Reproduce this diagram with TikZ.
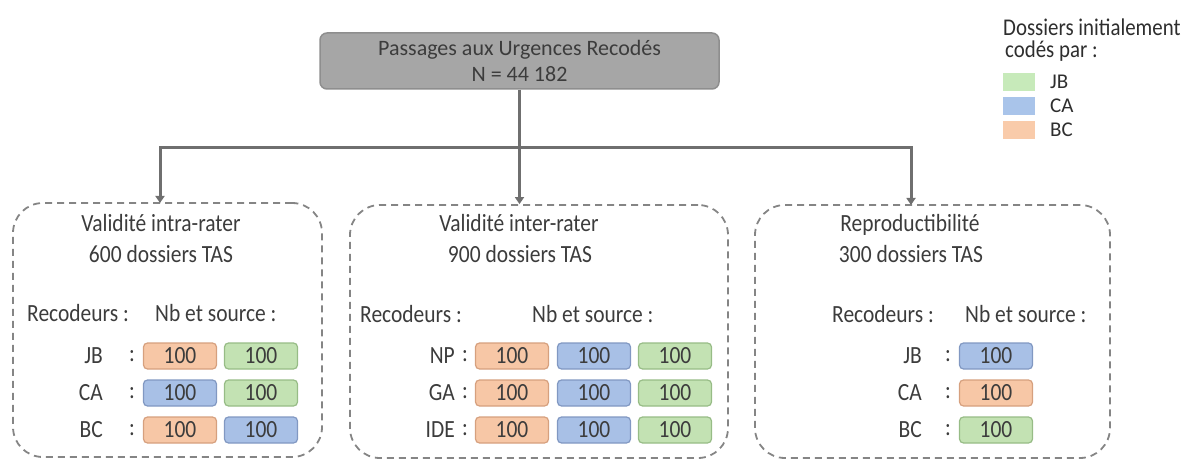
\documentclass[tikz,border=0pt]{standalone}
\usepackage{fontspec}
\setmainfont{Carlito}
% panel text is set slightly narrow and tall
\newfontfamily\panelfont[FakeStretch=0.87]{Carlito}
\usetikzlibrary{arrows.meta}

\definecolor{txt}{HTML}{3C3C3C}
\definecolor{legtxt}{HTML}{2E2E2E}
\definecolor{linegray}{HTML}{6F6F6F}
\definecolor{dashgray}{HTML}{858585}
\definecolor{topfill}{HTML}{A6A6A6}
\definecolor{topdraw}{HTML}{8E8E8E}
\definecolor{orfill}{HTML}{F7C7A6}
\definecolor{ordraw}{HTML}{D6A07E}
\definecolor{blfill}{HTML}{A8C0E6}
\definecolor{bldraw}{HTML}{8198C2}
\definecolor{grfill}{HTML}{C3E2B3}
\definecolor{grdraw}{HTML}{97BC86}
\definecolor{keyor}{HTML}{F9CBAA}
\definecolor{keybl}{HTML}{A9C4EA}
\definecolor{keygr}{HTML}{C7EABA}

\tikzset{
  base/.style={font=\panelfont\fontsize{24.7}{31}\selectfont, text=txt, inner sep=0pt},
  topbox/.style={font=\fontsize{22}{26}\selectfont, text=txt, inner sep=0pt,
    draw=topdraw, fill=topfill, line width=1.5pt,
    rounded corners=7pt, minimum width=399pt, minimum height=56pt, align=center},
  panel/.style={draw=dashgray, line width=1.8pt, dash pattern=on 7pt off 5pt,
    rounded corners=30pt},
  conn/.style={draw=linegray, line width=3pt, -{Triangle[width=9pt,length=7pt]}},
  cell/.style={base, minimum width=73pt, minimum height=26pt, rounded corners=4pt,
    line width=1.2pt},
  cellO/.style={cell, fill=orfill, draw=ordraw},
  cellB/.style={cell, fill=blfill, draw=bldraw},
  cellG/.style={cell, fill=grfill, draw=grdraw},
  keysq/.style={minimum width=32pt, minimum height=18pt, inner sep=0pt},
  keytxt/.style={font=\fontsize{21}{22}\selectfont, text=legtxt, inner sep=0pt},
  legtitle/.style={keytxt, anchor=base west, font=\panelfont\fontsize{24}{22}\selectfont},
  ttl/.style={base, anchor=base},
}

\begin{document}
\begin{tikzpicture}[x=1pt, y=-1pt]
\useasboundingbox (0,0) rectangle (1193,462);

% top box
\node[topbox] (top) at (519.5,61) {Passages aux Urgences Recodés\\N = 44 182};

% three study panels
\node[panel, minimum width=309pt, minimum height=254pt] (p1) at (167.5,330) {};
\node[panel, minimum width=378pt, minimum height=253pt] (p2) at (539,331.5) {};
\node[panel, minimum width=355pt, minimum height=253pt] (p3) at (932.5,331.5) {};

% connectors
\coordinate (hub) at (519.5,148);
\coordinate (in1) at (160,203);
\coordinate (in3) at (911,205);
\draw[conn] (top.south) -- (top.south |- p2.north);
\draw[conn] (hub) -| (in1);
\draw[conn] (hub) -| (in3);

% --- panel 1: intra-rater
\node[ttl] (t1a) at (161,232) {Validité intra-rater};
\node[ttl] (t1b) at (161,262.5) {600 dossiers TAS};
\node[base, anchor=base west] (r1) at (27,321) {Recodeurs :};
\node[base, anchor=base west] (s1) at (155,321) {Nb et source :};
\node[base, anchor=east] (a1) at (103,356) {JB};
\node[base, anchor=east] (a2) at (103,393) {CA};
\node[base, anchor=east] (a3) at (103,430) {BC};
\node[base] (c1a) at (132,356) {:};
\node[base] (c1b) at (132,393) {:};
\node[base] (c1c) at (132,430) {:};
\node[cellO] (x11) at (180,356) {100};
\node[cellG] (x12) at (261,356) {100};
\node[cellB] (x21) at (180,393) {100};
\node[cellG] (x22) at (261,393) {100};
\node[cellO] (x31) at (180,430) {100};
\node[cellB] (x32) at (261,430) {100};

% --- panel 2: inter-rater
\node[ttl] (t2a) at (519,232) {Validité inter-rater};
\node[ttl] (t2b) at (520,262.5) {900 dossiers TAS};
\node[base, anchor=base west] (r2) at (360,322) {Recodeurs :};
\node[base, anchor=base west] (s2) at (532,322) {Nb et source :};
\node[base, anchor=east] (b1) at (455,356) {NP};
\node[base, anchor=east] (b2) at (455,393) {GA};
\node[base, anchor=east] (b3) at (455,430) {IDE};
\node[base] (c2a) at (465,356) {:};
\node[base] (c2b) at (465,393) {:};
\node[base] (c2c) at (465,430) {:};
\node[cellO] (y11) at (512,356) {100};
\node[cellB] (y12) at (594,356) {100};
\node[cellG] (y13) at (675,356) {100};
\node[cellO] (y21) at (512,393) {100};
\node[cellB] (y22) at (594,393) {100};
\node[cellG] (y23) at (675,393) {100};
\node[cellO] (y31) at (512,430) {100};
\node[cellB] (y32) at (594,430) {100};
\node[cellG] (y33) at (675,430) {100};

% --- panel 3: reproducibility
\node[ttl] (t3a) at (910,232) {Reproductibilité};
\node[ttl] (t3b) at (911,262.5) {300 dossiers TAS};
\node[base, anchor=base west] (r3) at (832,322) {Recodeurs :};
\node[base, anchor=base west] (s3) at (965,322) {Nb et source :};
\node[base, anchor=east] (d1) at (922,356) {JB};
\node[base, anchor=east] (d2) at (922,393) {CA};
\node[base, anchor=east] (d3) at (922,430) {BC};
\node[base] (c3a) at (948,356) {:};
\node[base] (c3b) at (948,393) {:};
\node[base] (c3c) at (948,430) {:};
\node[cellB] (z1) at (996,356) {100};
\node[cellO] (z2) at (996,393) {100};
\node[cellG] (z3) at (996,430) {100};

% legend
\node[legtitle] (lg1) at (1003,36) {Dossiers initialement};
\node[legtitle] (lg2) at (1005,58) {codés par :};
\node[keysq, fill=keygr] (kg) at (1019,82) {};
\node[keysq, fill=keybl] (kb) at (1019,106) {};
\node[keysq, fill=keyor] (ko) at (1019,130) {};
\node[keytxt, anchor=west] (kgt) at (1050,82) {JB};
\node[keytxt, anchor=west] (kbt) at (1050,106) {CA};
\node[keytxt, anchor=west] (kot) at (1050,130) {BC};
\end{tikzpicture}
\end{document}
